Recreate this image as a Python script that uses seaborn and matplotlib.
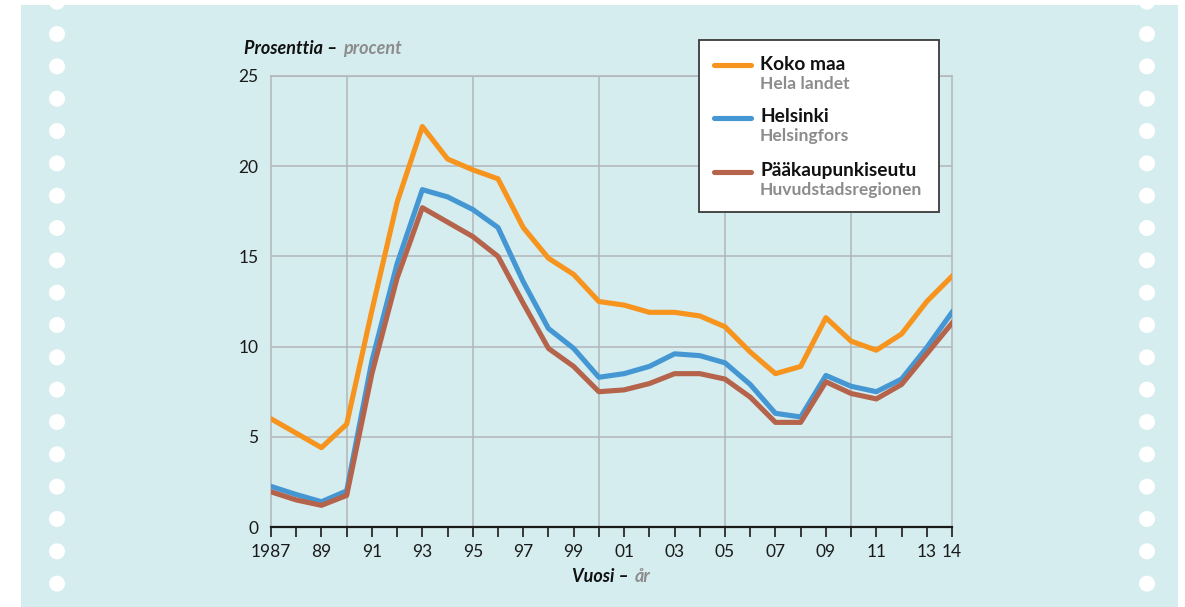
import matplotlib
matplotlib.use("Agg")
import matplotlib.pyplot as plt
from matplotlib.patches import Rectangle, Ellipse
from matplotlib.lines import Line2D
import seaborn as sns
import pandas as pd

# ---------------- data ----------------
years = list(range(1987, 2015))
koko_maa = [6.0, 5.2, 4.4, 5.7, 12.0, 18.0, 22.2, 20.4, 19.8, 19.3, 16.6, 14.9, 14.0,
            12.5, 12.3, 11.9, 11.9, 11.7, 11.1, 9.7, 8.5, 8.9, 11.6, 10.3, 9.8, 10.7, 12.5, 13.9]
helsinki = [2.25, 1.8, 1.4, 2.0, 9.2, 14.6, 18.7, 18.3, 17.6, 16.6, 13.6, 11.0, 9.9,
            8.3, 8.5, 8.9, 9.6, 9.5, 9.1, 7.9, 6.3, 6.1, 8.4, 7.8, 7.5, 8.2, 9.95, 11.9]
paakaupunkiseutu = [1.95, 1.5, 1.2, 1.75, 8.5, 13.8, 17.7, 16.9, 16.1, 15.0, 12.4, 9.9, 8.9,
                    7.5, 7.6, 7.95, 8.5, 8.5, 8.2, 7.2, 5.8, 5.8, 8.05, 7.4, 7.1, 7.9, 9.6, 11.3]

series_fi = ["Koko maa", "Helsinki", "Pääkaupunkiseutu"]
series_sv = ["Hela landet", "Helsingfors", "Huvudstadsregionen"]
colors = ["#f7941d", "#4597d3", "#b5644b"]

y_ticks = [0, 5, 10, 15, 20, 25]
x_tick_labels = ["1987" if y == 1987 else (f"{y % 100:02d}" if (y % 2 == 1 or y == 2014) else "")
                 for y in years]

# ---------------- figure ----------------
W, H = 1185, 607
fig = plt.figure(figsize=(W / 100, H / 100), dpi=100, facecolor="white")
FONT = "Lato"
plt.rcParams["font.family"] = [FONT, "DejaVu Sans"]

BG = "#d5edef"
GRID = "#b3b6ba"
GRAY_TXT = "#8c8c8c"


def fx(px):
    return px / W


def fy(py):
    return 1 - py / H


# background panel
fig.add_artist(Rectangle((fx(21), 0), fx(1178) - fx(21), fy(5), facecolor=BG,
                         edgecolor="none", zorder=-5))
# perforation dots
for k in range(19):
    yc = 1.7 + 32.33 * k
    for xc in (57, 1147):
        fig.add_artist(Ellipse((fx(xc), fy(yc)), 16 / W, 16 / H, facecolor="white",
                               edgecolor="none", zorder=-4))

ax = fig.add_axes([fx(271), fy(527), fx(952) - fx(271), fy(76) - fy(527)])
ax.set_facecolor("none")

df = pd.DataFrame({
    "year": years * 3,
    "value": koko_maa + helsinki + paakaupunkiseutu,
    "series": [s for s in series_fi for _ in years],
})
sns.lineplot(data=df, x="year", y="value", hue="series", hue_order=series_fi,
             palette=colors, linewidth=3.7, legend=False, ax=ax, zorder=3)

ax.set_xlim(1987, 2014)
ax.set_ylim(0, 25)
ax.set_xlabel("")
ax.set_ylabel("")

ax.set_yticks(y_ticks)
ax.set_yticklabels([str(v) for v in y_ticks])
ax.tick_params(axis="y", length=0, pad=9, labelsize=12.5, labelcolor="#1a1a1a")
ax.set_xticks(years)
ax.set_xticklabels(x_tick_labels)
ax.tick_params(axis="x", length=7.5, width=1.2, direction="out", pad=5,
               labelsize=12.5, labelcolor="#1a1a1a", color="#1a1a1a")

# grid
for v in y_ticks[1:]:
    ax.axhline(v, color=GRID, linewidth=1.1, zorder=1)
for yv in (1990, 1995, 2000, 2005, 2010):
    ax.axvline(yv, color=GRID, linewidth=1.1, zorder=1)

for side in ("left", "right", "top"):
    ax.spines[side].set_color(GRID)
    ax.spines[side].set_linewidth(1.1)
ax.spines["bottom"].set_color("#1a1a1a")
ax.spines["bottom"].set_linewidth(1.6)
ax.spines["bottom"].set_zorder(4)


def two_tone(x, y, first, second, size):
    t1 = fig.text(fx(x), fy(y), first, fontsize=size, fontweight="bold",
                  fontstyle="italic", color="#111111", va="baseline", ha="left")
    fig.text(0, 0, "")
    ax.annotate(second, xy=(1, 0), xycoords=t1, xytext=(4, 0), textcoords="offset points",
                fontsize=size, fontweight="bold", fontstyle="italic", color=GRAY_TXT,
                va="bottom", ha="left", annotation_clip=False)


# axis titles
two_tone(244, 54, "Prosenttia –", "procent", 13)
two_tone(572, 582.5, "Vuosi –", "år", 13)

# legend box
fig.add_artist(Rectangle((fx(698.5), fy(212)), fx(939) - fx(698.5), fy(40) - fy(212),
                         facecolor="white", edgecolor="#3a3a3a", linewidth=1.3, zorder=5))
handle_y = [64.7, 117.7, 171.7]
main_base = [69.5, 122.5, 176]
sub_base = [89, 141.5, 195]
for i in range(3):
    fig.add_artist(Line2D([fx(714), fx(751)], [fy(handle_y[i])] * 2, color=colors[i],
                          linewidth=3.7, solid_capstyle="round", zorder=6))
    fig.text(fx(760), fy(main_base[i]), series_fi[i], fontsize=13.8, fontweight="bold",
             color="#111111", va="baseline", ha="left", zorder=7)
    fig.text(fx(760), fy(sub_base[i]), series_sv[i], fontsize=12.6, fontweight="bold",
             color=GRAY_TXT, va="baseline", ha="left", zorder=7)

fig.savefig("out.png", dpi=100, facecolor="white")
